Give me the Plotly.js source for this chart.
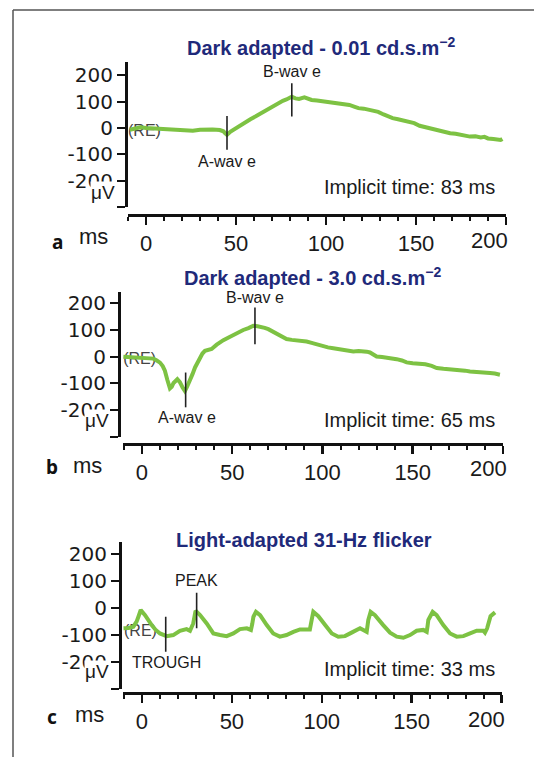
<!DOCTYPE html>
<html>
<head>
<meta charset="utf-8">
<script src="https://cdn.plot.ly/plotly-3.0.1.min.js"></script>
<style>html,body{margin:0;padding:0;background:#fff;}#chart{width:534px;height:757px;}</style>
</head>
<body>
<div id="chart"></div>
<script>
// ---------- data ----------
const timeA = [-9,-6,-3,0,2,5,8,11,13,16,19,22,26,30,34,37,41,43,44,45,47,49,52,55,58,61,63,66,69,72,74,76,78,80,81,83,85,88,90,92,95,97,100,103,106,108,111,113,116,118,121,123,126,129,132,134,137,140,143,146,149,152,155,158,161,163,166,169,172,175,178,180,183,186,188,190,193,195,197,198];
const ampA  = [-7,-2,2,0,-1,-3,-5,-4,-4,-6,-7,-9,-11,-7,-5,-6,-8,-13,-20,-26,-14,-5,8,20,33,44,52,67,78,88,97,103,108,115,118,112,110,116,111,106,104,102,99,98,92,91,90,87,80,75,73,70,66,61,51,45,37,33,27,24,18,8,3,-1,-7,-12,-16,-20,-22,-27,-30,-33,-32,-36,-34,-40,-42,-44,-46,-42];

const timeB = [-10.3,-7,-3,0,2.6,4.5,6.3,8,10,11.5,12.7,14,15.5,16.5,17.5,19.6,21,22.5,23.8,25,26.6,28,29.4,30.8,32.1,33.5,34.9,36.8,38.6,41.4,43,45.1,48,50.6,53,56.1,59,61.7,64,66.3,68,70,72,74.6,77,80.1,83,85.7,88,91.2,94,96.8,98.5,100.5,103,106,109,111.5,114,117.1,120,122.6,124.5,126.3,128,130,133,135.6,138,141.1,144,146.6,150,154,157,160.5,162,163.3,167,170.6,173,176.2,179,181.7,184.5,187.3,190,192.8,195.5,198.3];
const ampB  = [0,-1,-3,-4,-5,-5,-7,-13,-22,-35,-52,-85,-118,-112,-98,-84,-95,-115,-128,-112,-90,-65,-40,-20,-3,12,22,26,29,45,53,62,72,82,88,100,107,116,114,112,108,103,96,85,76,66,63,62,60,57,52,47,41,37,35,32,28,25,23,20,21,22,19,16,9,1,-1,-3,-5,-9,-14,-21,-24,-25,-28,-34,-39,-42,-45,-46,-48,-50,-52,-55,-56,-56,-59,-61,-63,-67];

const timeC = [-10.4,-7.5,-4.8,-3,-2.0,-0.7,1.7,3.5,5.4,7.5,10,13.7,17.4,21.1,24.8,26.7,27.8,28.5,29.8,32.3,36,39.7,43.4,47.1,50.8,54.5,58.3,60.6,61.3,62,63.4,65.7,69.4,73,76.7,80.4,84.2,87.9,93.4,94,94.4,95.3,98.1,101.9,105.6,109.2,112.9,116.6,121.3,125,125.5,125.9,127.2,129.6,134.2,138,141.7,145.4,149.1,152.8,156.5,158.4,158.9,159.3,161.7,163.9,167.6,171.4,175.1,178.8,182.5,186.2,189.9,190.8,192,192.7,193.9,196.4];
const ampC  = [-75,-74,-69,-50,-32,-7,-26,-45,-63,-80,-94,-104,-100,-84,-78,-84,-70,-57,-10,-26,-57,-94,-100,-104,-94,-78,-75,-81,-60,-32,-14,-26,-63,-94,-106,-100,-88,-79,-79,-65,-44,-14,-30,-63,-94,-106,-104,-91,-75,-88,-65,-44,-14,-26,-63,-91,-106,-110,-100,-84,-81,-88,-65,-44,-14,-26,-63,-94,-106,-104,-94,-84,-84,-91,-75,-57,-30,-16];

// cursor markers: time, top, bottom, label
const markerTimeA = [45, 81];
const markerTopA = [45, 169];
const markerBottomA = [-83, 43];
const markerLabelA = ['A-wav e', 'B-wav e'];

const markerTimeB = [24.2, 62.6];
const markerTopB = [-59, 184];
const markerBottomB = [-189, 47];
const markerLabelB = ['A-wav e', 'B-wav e'];

const markerTimeC = [13.2, 30.4];
const markerTopC = [-32, 57];
const markerBottomC = [-162, -75];
const markerLabelC = ['TROUGH', 'PEAK'];

const reLabelTime = [-10, -10.4, -10];
const reLabelAmp = [-15, -11, -89];

const panelTitles = ['Dark adapted - 0.01 cd.s.m<sup>−2</sup>', 'Dark adapted - 3.0 cd.s.m<sup>−2</sup>', 'Light-adapted 31-Hz flicker'];
const implicitTexts = ['Implicit time: 83 ms', 'Implicit time: 65 ms', 'Implicit time: 33 ms'];
const panelLetters = ['a', 'b', 'c'];
const xTickVals = [0, 50, 100, 150, 200];
const xTickText = ['0', '50', '100', '150', ''];
const yTickVals = [-300, -200, -100, 0, 100, 200];
const yTickText = ['', '-200', '-100', '0', '100', '200'];
const yUnit = 'μV';
const xUnit = 'ms';

// ---------- layout helpers ----------
const W = 534, H = 757;
const px = v => v / W;
const py = v => 1 - v / H;
const GREEN = '#7dc243';
const NAVY = '#1f2a7a';
const SANS = 'Liberation Sans, Arial, Helvetica, sans-serif';

function xAxis(l, r, range, yLine) {
  return {
    domain: [px(l), px(r)], range: range, anchor: 'free', position: py(yLine),
    showline: true, linecolor: '#111', linewidth: 2.5,
    ticks: 'outside', ticklen: 8, tickwidth: 2.5, tickcolor: '#111',
    tickmode: 'array', tickvals: xTickVals, ticktext: xTickText,
    tickfont: {family: SANS, size: 22, color: '#1a1a1a'},
    minor: {tickmode: 'linear', tick0: 0, dtick: 10, ticks: 'outside', ticklen: 4, tickwidth: 2, tickcolor: '#111', showgrid: false},
    showgrid: false, zeroline: false, fixedrange: true
  };
}
function yAxis(top, bottom, range, xLine) {
  return {
    domain: [py(bottom), py(top)], range: range, anchor: 'free', position: px(xLine),
    showline: true, linecolor: '#111', linewidth: 2.5,
    ticks: 'outside', ticklen: 8, tickwidth: 2, tickcolor: '#111',
    tickmode: 'array', tickvals: yTickVals, ticktext: yTickText,
    tickfont: {family: 'DejaVu Sans, sans-serif', size: 20, color: '#1a1a1a'},
    showgrid: false, zeroline: false, fixedrange: true
  };
}

const panels = [
  {t: timeA, a: ampA, mt: markerTimeA, mtop: markerTopA, mbot: markerBottomA, ml: markerLabelA, xa: 'x', ya: 'y'},
  {t: timeB, a: ampB, mt: markerTimeB, mtop: markerTopB, mbot: markerBottomB, ml: markerLabelB, xa: 'x2', ya: 'y2'},
  {t: timeC, a: ampC, mt: markerTimeC, mtop: markerTopC, mbot: markerBottomC, ml: markerLabelC, xa: 'x3', ya: 'y3'}
];

const traces = [];
panels.forEach((p, i) => {
  traces.push({
    type: 'scatter', mode: 'text', x: [reLabelTime[i]], y: [reLabelAmp[i]], text: ['(RE)'],
    textposition: 'middle right', textfont: {family: SANS, size: 16, color: '#444'},
    xaxis: p.xa, yaxis: p.ya, cliponaxis: false, hoverinfo: 'skip'
  });
  traces.push({
    type: 'scatter', mode: 'lines', x: p.t, y: p.a,
    line: {color: GREEN, width: 4}, xaxis: p.xa, yaxis: p.ya, hoverinfo: 'skip'
  });
  p.mt.forEach((m, k) => {
    traces.push({
      type: 'scatter', mode: 'lines', x: [m, m], y: [p.mtop[k], p.mbot[k]],
      line: {color: '#222', width: 1.6}, xaxis: p.xa, yaxis: p.ya, hoverinfo: 'skip', cliponaxis: false
    });
  });
});

const ann = [];
const txt = (o) => Object.assign({showarrow: false, xref: 'paper', yref: 'paper', xanchor: 'center', yanchor: 'middle'}, o);

// titles
[[321.5, 46], [312, 276], [304, 540]].forEach((c, i) => {
  ann.push(txt({x: px(c[0]), y: py(c[1]), text: '<b>' + panelTitles[i] + '</b>', font: {family: SANS, size: 20, color: NAVY}}));
});
// implicit times
[187, 420, 669].forEach((yy, i) => {
  ann.push(txt({x: px(497), y: py(yy), xanchor: 'right', text: implicitTexts[i], font: {family: SANS, size: 20, color: '#1a1a1a'}}));
});
// panel letters
[[57, 241.5], [52, 467], [52, 717]].forEach((c, i) => {
  ann.push(txt({x: px(c[0]), y: py(c[1]), text: '<b>' + panelLetters[i] + '</b>', font: {family: 'Noto Sans, sans-serif', size: 19, color: '#111'}}));
});
// ms labels
[[93, 236], [87.5, 465.5], [89, 714]].forEach((c) => {
  ann.push(txt({x: px(c[0]), y: py(c[1]), text: xUnit, font: {family: SANS, size: 22, color: '#1a1a1a'}}));
});
// μV labels (white box covering the lower part of -200)
[[103, 193], [97, 420], [97, 671]].forEach((c) => {
  ann.push(txt({x: px(c[0]), y: py(c[1]), text: yUnit, bgcolor: '#fff', borderpad: 0, font: {family: SANS, size: 19, color: '#1a1a1a'}}));
});
// shifted "200" tick labels
[['x', -17, 240], ['x2', -15, 468], ['x3', -15, 719]].forEach((c) => {
  ann.push({showarrow: false, xref: c[0], x: 200, xshift: c[1], yref: 'paper', y: py(c[2]), xanchor: 'center', yanchor: 'middle', text: '200', font: {family: SANS, size: 22, color: '#1a1a1a'}});
});
// marker labels
const labelPos = [
  [['x', 'y', 44.8, -127], ['x', 'y', 81, 213]],
  [['x2', 'y2', 24.7, -227], ['x2', 'y2', 62.6, 222]],
  [['x3', 'y3', -6.7, -202, 'left'], ['x3', 'y3', 30.4, 104]]
];
panels.forEach((p, i) => {
  p.ml.forEach((lab, k) => {
    const L = labelPos[i][k];
    ann.push({showarrow: false, xref: L[0], yref: L[1], x: L[2], y: L[3], xanchor: L[4] || 'center', yanchor: 'middle', text: lab, font: {family: SANS, size: 16, color: '#1a1a1a'}});
  });
});

const layout = {
  width: W, height: H, margin: {l: 0, r: 0, t: 0, b: 0},
  paper_bgcolor: '#fff', plot_bgcolor: 'rgba(0,0,0,0)', showlegend: false,
  xaxis: xAxis(128, 506, [-10, 200], 215),
  yaxis: yAxis(62, 207, [-300, 250], 126),
  xaxis2: xAxis(123, 503, [-10.5, 200], 444),
  yaxis2: yAxis(292, 437, [-300, 242], 119),
  xaxis3: xAxis(123.3, 501.5, [-10.4, 200], 693),
  yaxis3: yAxis(542, 689, [-300, 245], 120),
  annotations: ann,
  shapes: [
    {type: 'line', xref: 'paper', yref: 'paper', x0: px(13), x1: px(13), y0: 0, y1: py(10), line: {color: '#555', width: 1.5}},
    {type: 'line', xref: 'paper', yref: 'paper', x0: px(13), x1: 1, y0: py(10), y1: py(10), line: {color: '#555', width: 1.5}}
  ]
};

Plotly.newPlot('chart', traces, layout, {staticPlot: true, displayModeBar: false});
</script>
</body>
</html>
